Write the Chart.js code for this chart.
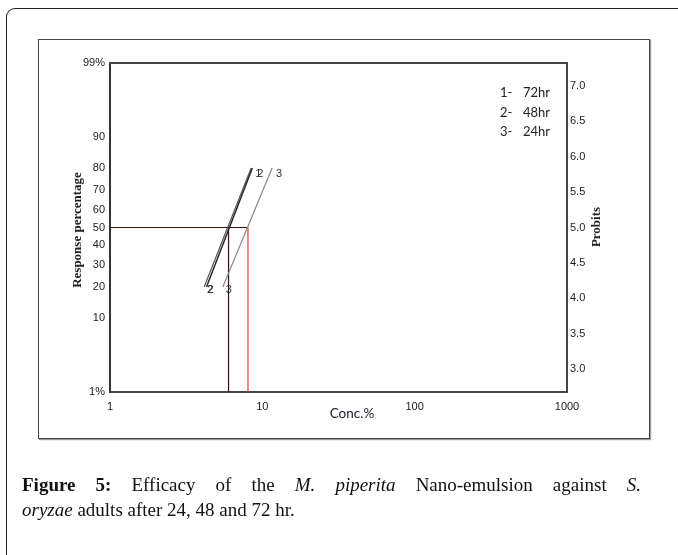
<!DOCTYPE html>
<html>
<head>
<meta charset="utf-8">
<script src="https://cdn.jsdelivr.net/npm/chart.js@4.4.1/dist/chart.umd.min.js"></script>
<style>
  body { margin: 0; background: #fff; }
  #wrap { position: relative; width: 678px; height: 555px; overflow: hidden; }
  #outer { position: absolute; left: 6px; top: 8px; width: 720px; height: 600px;
           border-left: 1.5px solid #222; border-top: 1.5px solid #222; border-top-left-radius: 9px; }
  #box { position: absolute; left: 38px; top: 39px; width: 610px; height: 398px;
         border: 1px solid #444; box-shadow: 1px 1px 1px #999; }
  canvas { position: absolute; left: 0; top: 0; }
  #caption { position: absolute; left: 22px; top: 472px; width: 619px;
             font-family: "Liberation Serif", serif; font-size: 19px; line-height: 25px;
             text-align: left; color: #111; }
  #caption .l1 { display: block; text-align: justify; text-align-last: justify; }
</style>
</head>
<body>
<div id="wrap">
  <div id="outer"></div>
  <div id="box"></div>
  <canvas id="myChart" width="678" height="555"></canvas>
  <div id="caption"><span class="l1"><b>Figure 5:</b> Efficacy of the <i>M. piperita</i> Nano-emulsion against <i>S.</i></span><i>oryzae</i> adults after 24, 48 and 72 hr.</div>
</div>
<script>
// tick labels
const xTicks = [1, 10, 100, 1000]
const pctTicks = [1, 10, 20, 30, 40, 50, 60, 70, 80, 90, 99]
const probitTicks = [3.0, 3.5, 4.0, 4.5, 5.0, 5.5, 6.0, 6.5, 7.0]

// response % at the two ends of each probit line, and conc. read at those ends
const endPct = [20, 80]
const conc72 = [4.3, 8.6]
const conc48 = [4.15, 8.45]
const conc24 = [5.5, 11.6]
// LC50 values (48hr / 24hr)
const lc50 = [6.0, 8.05]
const legendLabels = ['1-', '2-', '3-']
const legendHours = ['72hr', '48hr', '24hr']

// inverse normal (Acklam) -> probit = 5 + z
function probit(pct) {
    let p = pct / 100
    const a = [-39.69683028665376, 220.9460984245205, -275.9285104469687, 138.3577518672690, -30.66479806614716, 2.506628277459239]
    const b = [-54.47609879822406, 161.5858368580409, -155.6989798598866, 66.80131188771972, -13.28068155288572]
    const c = [-0.007784894002430293, -0.3223964580411365, -2.400758277161838, -2.549732539343734, 4.374664141464968, 2.938163982698783]
    const d = [0.007784695709041462, 0.3224671290700398, 2.445134137142996, 3.754408661907416]
    let q, r, z
    if (p < 0.02425) {
        q = Math.sqrt(-2 * Math.log(p))
        z = (((((c[0]*q+c[1])*q+c[2])*q+c[3])*q+c[4])*q+c[5]) / ((((d[0]*q+d[1])*q+d[2])*q+d[3])*q+1)
    } else if (p > 1 - 0.02425) {
        q = Math.sqrt(-2 * Math.log(1 - p))
        z = -(((((c[0]*q+c[1])*q+c[2])*q+c[3])*q+c[4])*q+c[5]) / ((((d[0]*q+d[1])*q+d[2])*q+d[3])*q+1)
    } else {
        q = p - 0.5
        r = q * q
        z = (((((a[0]*r+a[1])*r+a[2])*r+a[3])*r+a[4])*r+a[5])*q / (((((b[0]*r+b[1])*r+b[2])*r+b[3])*r+b[4])*r+1)
    }
    return 5 + z
}

function pts(conc) {
    return conc.map((c, i) => ({ x: c, y: probit(endPct[i]) }))
}

const extras = {
    id: 'extras',
    afterDraw(chart) {
        const ctx = chart.ctx
        const ca = chart.chartArea
        const xs = chart.scales.x, ys = chart.scales.y
        ctx.save()
        // top frame
        ctx.strokeStyle = '#444'
        ctx.lineWidth = 2
        ctx.beginPath()
        ctx.moveTo(ca.left - 1, ca.top)
        ctx.lineTo(ca.right + 1, ca.top)
        ctx.stroke()

        // axis titles
        ctx.fillStyle = '#222'
        ctx.textAlign = 'center'
        ctx.textBaseline = 'middle'
        ctx.font = 'bold 13px "Liberation Serif"'
        ctx.save()
        ctx.translate(ca.left - 32, ca.top + 167)
        ctx.rotate(-Math.PI / 2)
        ctx.fillText('Response percentage', 0, 0)
        ctx.restore()
        ctx.save()
        ctx.translate(ca.right + 30, ca.top + 164)
        ctx.rotate(-Math.PI / 2)
        ctx.fillText('Probits', 0, 0)
        ctx.restore()
        ctx.font = '13.5px Lato'
        ctx.fillStyle = '#223'
        ctx.fillText('Conc.%', 352, ca.bottom + 22)

        // line end labels
        ctx.font = '11px "Liberation Sans"'
        ctx.fillStyle = '#333'
        const y20 = ys.getPixelForValue(probit(endPct[0]))
        const y80 = ys.getPixelForValue(probit(endPct[1]))
        ctx.fillText('2', xs.getPixelForValue(conc48[0]) + 6, y20 + 3)
        ctx.fillText('2', xs.getPixelForValue(conc48[0]) + 6.5, y20 + 3)
        ctx.fillText('3', xs.getPixelForValue(conc24[0]) + 6, y20 + 3)
        ctx.fillText('1', xs.getPixelForValue(conc72[1]) + 6, y80 + 6)
        ctx.fillText('2', xs.getPixelForValue(conc72[1]) + 8, y80 + 6)
        ctx.fillText('3', xs.getPixelForValue(conc24[1]) + 7, y80 + 6)

        // legend
        ctx.font = '13px Lato'
        ctx.fillStyle = '#222'
        ctx.textAlign = 'left'
        legendLabels.forEach((l, i) => {
            ctx.fillText(l, ca.right - 67, ca.top + 30 + i * 19.5)
            ctx.fillText(legendHours[i], ca.right - 44, ca.top + 30 + i * 19.5)
        })
        ctx.restore()
    }
}

const tickFont = { family: 'Liberation Sans', size: 11 }

const ctx = document.getElementById('myChart').getContext('2d')
new Chart(ctx, {
    type: 'scatter',
    data: {
        datasets: [
            { label: '72hr', data: pts(conc72), borderColor: '#2a2a2a', borderWidth: 1.5 },
            { label: '48hr', data: pts(conc48), borderColor: '#555', borderWidth: 1.2 },
            { label: '24hr', data: pts(conc24), borderColor: '#8a8a8a', borderWidth: 1.2 },
            { label: 'LC50', data: [{ x: 1, y: probit(50) }, { x: lc50[1], y: probit(50) }], borderColor: '#3a0c0c', borderWidth: 1.2 },
            { label: 'LC50 48hr', data: [{ x: lc50[0], y: probit(1) }, { x: lc50[0], y: probit(50) }], borderColor: '#3a0c0c', borderWidth: 1.2 },
            { label: 'LC50 24hr', data: [{ x: lc50[1], y: probit(1) }, { x: lc50[1], y: probit(50) }], borderColor: '#e03a3a', borderWidth: 1.2 }
        ]
    },
    options: {
        responsive: false,
        animation: false,
        showLine: true,
        elements: { point: { radius: 0, hoverRadius: 0 }, line: { tension: 0 } },
        layout: { padding: { top: 63, left: 0, right: 0, bottom: 0 } },
        plugins: { legend: { display: false }, tooltip: { enabled: false } },
        scales: {
            x: {
                type: 'logarithmic', min: 1, max: 1000,
                afterFit: s => { s.height = 163 },
                afterBuildTicks: s => { s.ticks = xTicks.map(v => ({ value: v })) },
                ticks: { color: '#222', font: tickFont, padding: 8,
                         maxRotation: 0, autoSkip: false, callback: v => String(v) },
                grid: { display: false, drawTicks: false },
                border: { color: '#444', width: 2 }
            },
            y: {
                type: 'linear', min: probit(1), max: probit(99), position: 'left',
                afterFit: s => { s.width = 110 },
                afterBuildTicks: s => { s.ticks = pctTicks.map(p => ({ value: probit(p) })) },
                ticks: { color: '#222', font: tickFont, padding: 5, autoSkip: false,
                         callback: (v, i) => pctTicks[i] + (i === 0 || i === pctTicks.length - 1 ? '%' : '') },
                grid: { display: false, drawTicks: false },
                border: { color: '#333', width: 2 }
            },
            y2: {
                type: 'linear', min: probit(1), max: probit(99), position: 'right',
                afterFit: s => { s.width = 111 },
                afterBuildTicks: s => { s.ticks = probitTicks.map(v => ({ value: v })) },
                ticks: { color: '#222', font: tickFont, padding: 3, autoSkip: false,
                         callback: v => v.toFixed(1) },
                grid: { display: false, drawTicks: false },
                border: { color: '#444', width: 2 }
            }
        }
    },
    plugins: [extras]
})
</script>
</body>
</html>
